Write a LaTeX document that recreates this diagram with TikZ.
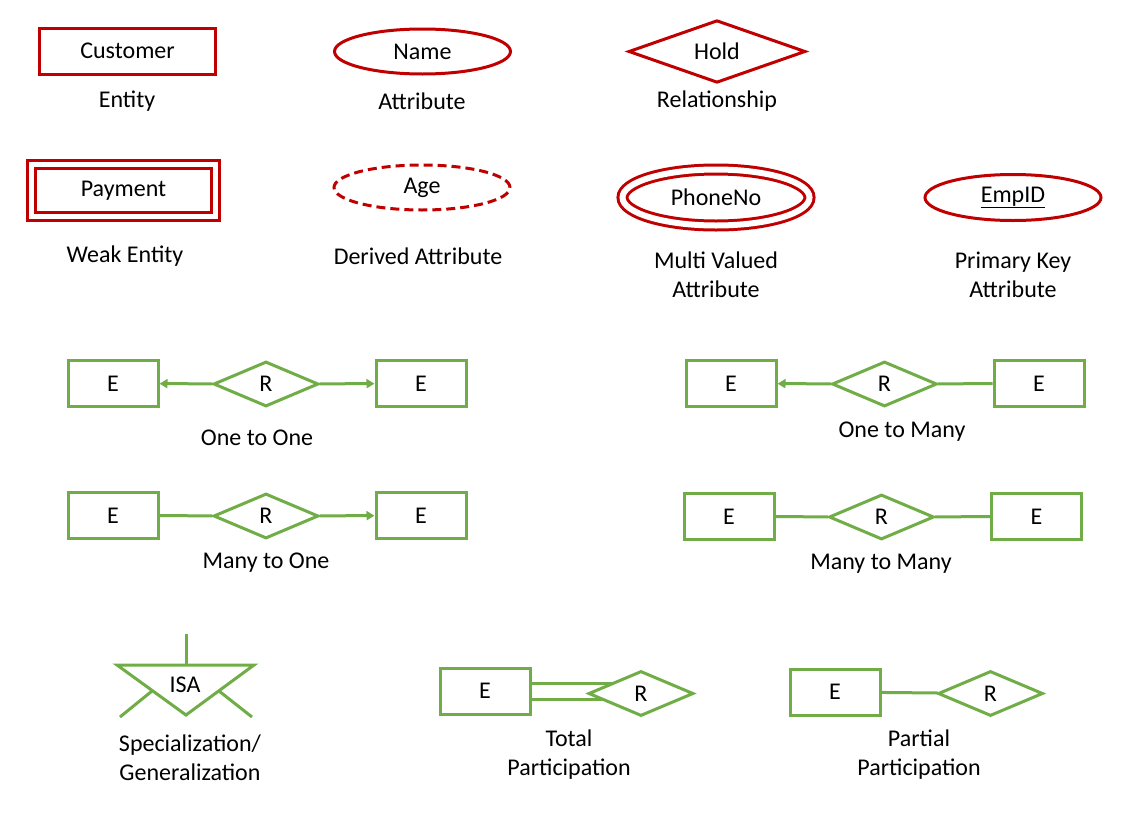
\documentclass[tikz,border=0pt]{standalone}
\usepackage{fontspec}
\setmainfont{Carlito}
\usetikzlibrary{shapes.geometric,arrows.meta,backgrounds}
\definecolor{erred}{HTML}{C00000}
\definecolor{ergreen}{HTML}{70AD47}

\begin{document}
\begin{tikzpicture}[x=1pt,y=-1pt,
    font=\fontsize{24}{29}\selectfont,
    base/.style={inner sep=0pt,align=center},
    lbl/.style={base},
    entity/.style={base,draw=erred,line width=3pt,minimum width=176pt,minimum height=46pt},
    weakentity/.style={entity,double,double distance=5pt,minimum width=184pt,minimum height=52pt},
    attr/.style={base,ellipse,draw=erred,line width=3pt,minimum width=176pt,minimum height=45pt},
    derived/.style={attr,dash pattern=on 9pt off 5pt},
    multi/.style={attr,double,double distance=6pt,minimum width=187pt,minimum height=56pt},
    keyattr/.style={attr,minimum height=46pt},
    relation/.style={base,diamond,draw=erred,line width=3pt,minimum width=177pt,minimum height=44pt},
    ent/.style={base,draw=ergreen,line width=3pt,fill=white,minimum width=90pt,minimum height=46pt},
    rel/.style={base,diamond,draw=ergreen,line width=3pt,fill=white,minimum width=105pt,minimum height=45pt},
    link/.style={draw=ergreen,line width=3pt},
    one/.style={link,-{Triangle[length=8pt,width=9pt]}}
]
    \useasboundingbox (0,0) rectangle (1136,817);

    % notation: entities and attributes
    \node[entity] (customer) at (127.5,51) {Customer};
    \node[lbl] (lblEntity) at (127,101) {Entity};
    \node[attr] (name) at (422.5,51.5) {Name};
    \node[lbl] (lblAttr) at (422,101) {Attribute};
    \node[relation] (hold) at (717,51.5) {Hold};
    \node[lbl] (lblRel) at (717,101) {Relationship};

    \node[weakentity] (payment) at (123.5,190.5) {Payment};
    \node[lbl] (lblWeak) at (125,256) {Weak Entity};
    \node[derived] (age) at (422,187.5) {Age};
    \node[lbl] (lblDerived) at (418,256) {Derived Attribute};
    \node[multi] (phone) at (716,197.5) {PhoneNo};
    \node[lbl] (lblMulti) at (716,275) {Multi Valued\\Attribute};
    \node[keyattr] (empid) at (1013,197.5) {\underline{EmpID}};
    \node[lbl] (lblKey) at (1013,275) {Primary Key\\Attribute};

    % cardinality
    \node[ent] (ooA) at (113,383.5) {E};
    \node[rel] (ooR) at (266,384) {R};
    \node[ent] (ooB) at (421,383.5) {E};
    \draw[one] (ooR) -- (ooA);
    \draw[one] (ooR) -- (ooB);
    \node[lbl] (lblOO) at (257,438) {One to One};

    \node[ent] (omA) at (731,383.5) {E};
    \node[rel] (omR) at (884.5,384) {R};
    \node[ent] (omB) at (1039,383.5) {E};
    \draw[one] (omR) -- (omA);
    \draw[link] (omR) -- (omB);
    \node[lbl] (lblOM) at (902,432) {One to Many};

    \node[ent] (moA) at (113,515.5) {E};
    \node[rel] (moR) at (266,516) {R};
    \node[ent] (moB) at (421,515.5) {E};
    \draw[link] (moR) -- (moA);
    \draw[one] (moR) -- (moB);
    \node[lbl] (lblMO) at (266,563) {Many to One};

    \node[ent] (mmA) at (729,516.5) {E};
    \node[rel] (mmR) at (881.5,517) {R};
    \node[ent] (mmB) at (1036.5,516.5) {E};
    \draw[link] (mmR) -- (mmA);
    \draw[link] (mmR) -- (mmB);
    \node[lbl] (lblMM) at (881,564) {Many to Many};

    % ISA triangle
    \coordinate (isaTL) at (117,665);
    \coordinate (isaTR) at (254,665);
    \coordinate (isaB) at (186,715);
    \coordinate (isaT) at (186,665);
    \coordinate (isaUp) at (186,634);
    \coordinate (isaML) at (152,691);
    \coordinate (isaMR) at (219,691);
    \coordinate (isaEL) at (120,717);
    \coordinate (isaER) at (252,717);
    \draw[link] (isaTL) -- (isaTR) -- (isaB) -- cycle;
    \draw[link] (isaUp) -- (isaT);
    \draw[link] (isaML) -- (isaEL);
    \draw[link] (isaMR) -- (isaER);
    \node[base] (isa) at (185,685) {ISA};
    \node[lbl] (lblIsa) at (190,758) {Specialization/\\Generalization};

    % participation
    \node[ent] (tE) at (485,691) {E};
    \node[rel] (tR) at (641,693.5) {R};
    \begin{scope}[on background layer]
        \draw[link,double,double distance=13pt] (tE.east) -- (tE.east -| tR.center);
    \end{scope}
    \node[lbl] (lblTotal) at (569,755) {Total\\Participation};

    \node[ent] (pE) at (835,692) {E};
    \node[rel] (pR) at (990.5,693.5) {R};
    \draw[link] (pE) -- (pR);
    \node[lbl] (lblPartial) at (919,755) {Partial\\Participation};
\end{tikzpicture}
\end{document}
